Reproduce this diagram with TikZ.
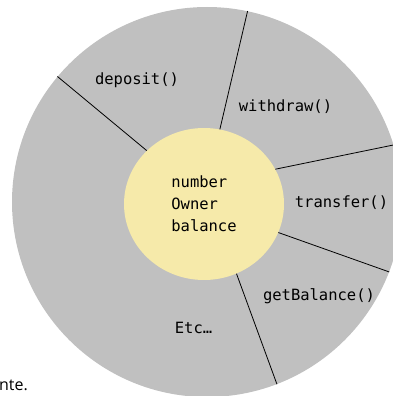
\documentclass[tikz,border=0pt]{standalone}
\usepackage{fontspec}
\setmonofont{DejaVu Sans Mono}
\newfontfamily\notefont{Open Sans}
\usepackage{tikz}
\usetikzlibrary{shapes.geometric}
\definecolor{shellgray}{RGB}{192,192,192}
\definecolor{coreyellow}{RGB}{246,234,170}
\tikzstyle{shell} = [circle, fill=shellgray, minimum size=390pt, inner sep=0pt]
\tikzstyle{core} = [ellipse, fill=coreyellow, minimum width=160pt, minimum height=152pt, inner sep=0pt, align=left, font=\ttfamily\fontsize{15.5}{22}\selectfont]
\tikzstyle{method} = [font=\ttfamily\fontsize{15.5}{18}\selectfont, inner sep=0pt]
\tikzstyle{spoke} = [line width=0.8pt]

\begin{document}
\begin{tikzpicture}[yscale=-1]
			\clip (0pt,0pt) rectangle (393pt,396pt);
			\useasboundingbox (0pt,0pt) rectangle (393pt,396pt);
			\node[shell] (shell) at (207pt,202pt) {};
			\node[core] (core) at (204pt,204pt) {number\\Owner\\balance};
			\draw[spoke] (core.137) -- (shell.140.5);
			\draw[spoke] (core.78) -- (shell.78.7);
			\draw[spoke] (core.26) -- (shell.17);
			\draw[spoke] (core.-21) -- (shell.-21.3);
			\draw[spoke] (core.-65) -- (shell.-69);
			\node[method] (deposit) at (137pt,80pt) {deposit()};
			\node[method] (withdraw) at (285.5pt,107pt) {withdraw()};
			\node[method] (transfer) at (341.5pt,203pt) {transfer()};
			\node[method] (getbalance) at (319pt,296pt) {getBalance()};
			\node[method] (etc) at (193.5pt,328pt) {Etc…};
			\node[anchor=base east, inner sep=0pt, font=\notefont\fontsize{16}{18}\selectfont] (note) at (28pt,390pt) {nte.};
		\end{tikzpicture}
\end{document}
